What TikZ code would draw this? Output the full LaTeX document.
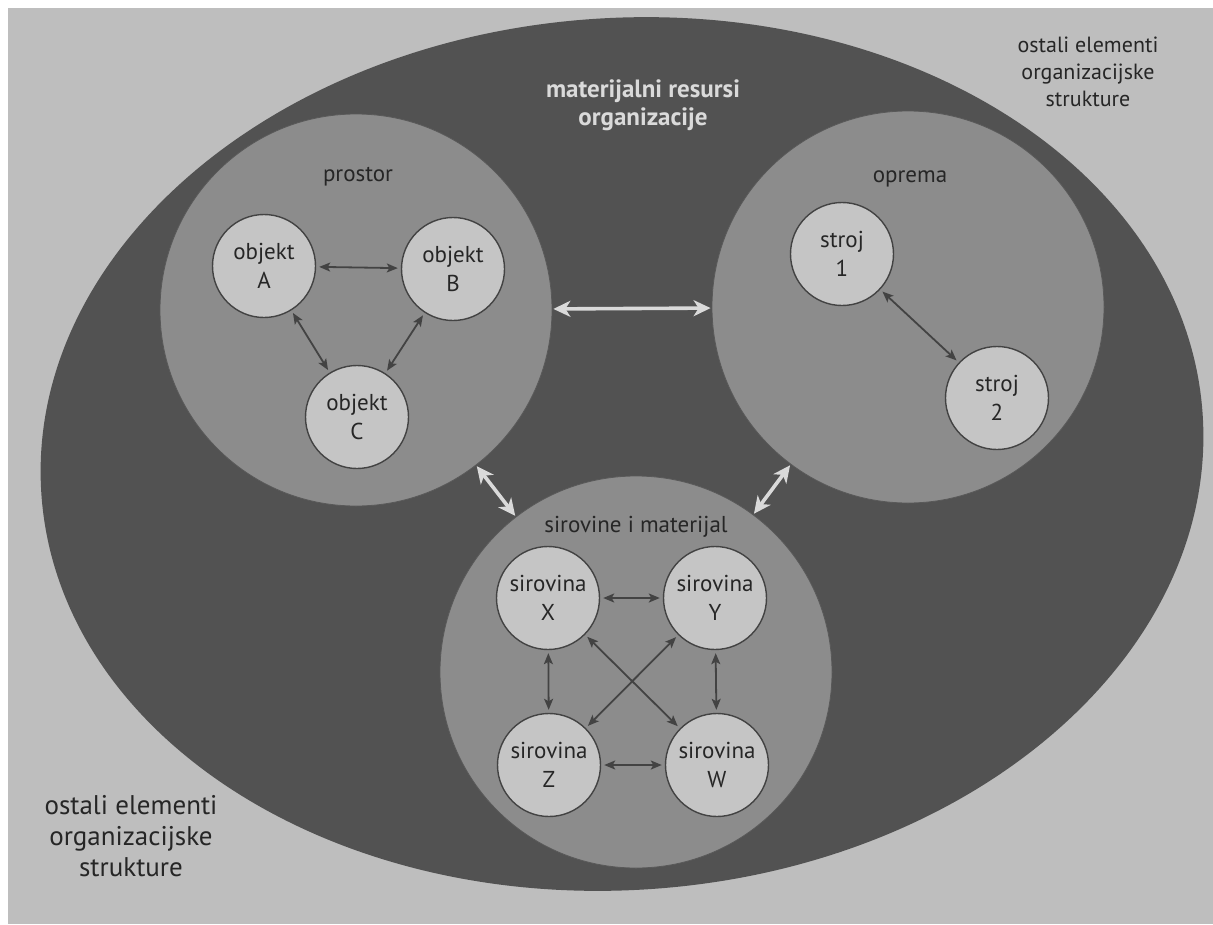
\documentclass[tikz,border=0pt]{standalone}
\usepackage{fontspec}
\setmainfont{PT Sans}
\usetikzlibrary{arrows.meta}
\definecolor{papir}{HTML}{BEBEBE}
\definecolor{tamna}{HTML}{525252}
\definecolor{srednja}{HTML}{8C8C8C}
\definecolor{svijetla}{HTML}{C5C5C5}
\definecolor{crta}{HTML}{434343}
\definecolor{bijela}{HTML}{DADADA}
\definecolor{tekst}{HTML}{262626}

\begin{document}
\begin{tikzpicture}[x=1pt,y=-1pt,%
      zona/.style={circle,fill=srednja,draw=crta!70!srednja,line width=0.8pt,%
        minimum size=392pt,inner sep=0pt},%
      elem/.style={circle,fill=svijetla,draw=crta,line width=1.4pt,%
        minimum size=103pt,inner sep=0pt,align=center,text=tekst,%
        font=\fontsize{23}{29}\selectfont},%
      naslov/.style={text=tekst,align=center,font=\fontsize{23}{28}\selectfont},%
      veza/.style={{Stealth[length=11pt,width=9pt,inset=2.5pt]}-{Stealth[length=11pt,width=9pt,inset=2.5pt]},%
        draw=crta,line width=1.8pt,shorten >=3pt,shorten <=3pt},%
      most/.style={{Stealth[length=17pt,width=16pt,inset=5pt]}-{Stealth[length=17pt,width=16pt,inset=5pt]},%
        draw=bijela,line width=3.6pt,shorten >=1pt,shorten <=1pt}%
      ]
      %% page and outer ellipse
      \fill[white] (0,0) rectangle (1213,924);%
      \fill[papir] (8,8) rectangle (1213,924);%
      \useasboundingbox (0,0) rectangle (1213,924);%
      \fill[tamna,rotate around={4:(622,454)}] (622,454)
      ellipse [x radius=582pt, y radius=436pt];%
      %% create nodes
      \node[zona] (prostor) at (356,310) {};%
      \node[zona] (oprema) at (908,307) {};%
      \node[zona] (sirovine) at (636,672) {};%
      \node[elem] (objA) at (264,266) {objekt\\A};%
      \node[elem] (objB) at (453,269) {objekt\\B};%
      \node[elem] (objC) at (357,417) {objekt\\C};%
      \node[elem] (stroj1) at (842,254) {stroj\\1};%
      \node[elem] (stroj2) at (997,398) {stroj\\2};%
      \node[elem] (sirX) at (548,598) {sirovina\\X};%
      \node[elem] (sirY) at (715,598) {sirovina\\Y};%
      \node[elem] (sirZ) at (549,765) {sirovina\\Z};%
      \node[elem] (sirW) at (717,765) {sirovina\\W};%
      %% labels
      \node[naslov] (lprostor) at (358,177) {prostor};%
      \node[naslov] (loprema) at (910,179) {oprema};%
      \node[naslov] (lsirovine) at (636,527) {sirovine i materijal};%
      \node[naslov,text=bijela,font=\fontsize{25}{28}\selectfont\bfseries] (lresursi) at (643,105)
      {materijalni resursi\\organizacije};%
      \node[naslov,font=\fontsize{22}{27}\selectfont] (lostaligore) at (1088,72)
      {ostali elementi\\organizacijske\\strukture};%
      \node[naslov,font=\fontsize{27}{31}\selectfont] (lostalidolje) at (131,836)
      {ostali elementi\\organizacijske\\strukture};%
      %% links between elements
      \foreach \x/\y in
      {objA/objB,objA/objC,objB/objC,stroj1/stroj2,sirX/sirY,sirX/sirZ,
        sirY/sirW,sirZ/sirW,sirX/sirW,sirY/sirZ} {%
        \draw[veza] (\x) to (\y);%
      }%
      %% links between groups
      \foreach \x/\y in {prostor/oprema,prostor/sirovine,oprema/sirovine} {%
        \draw[most] (\x) to (\y);%
      }%
    \end{tikzpicture}
\end{document}
